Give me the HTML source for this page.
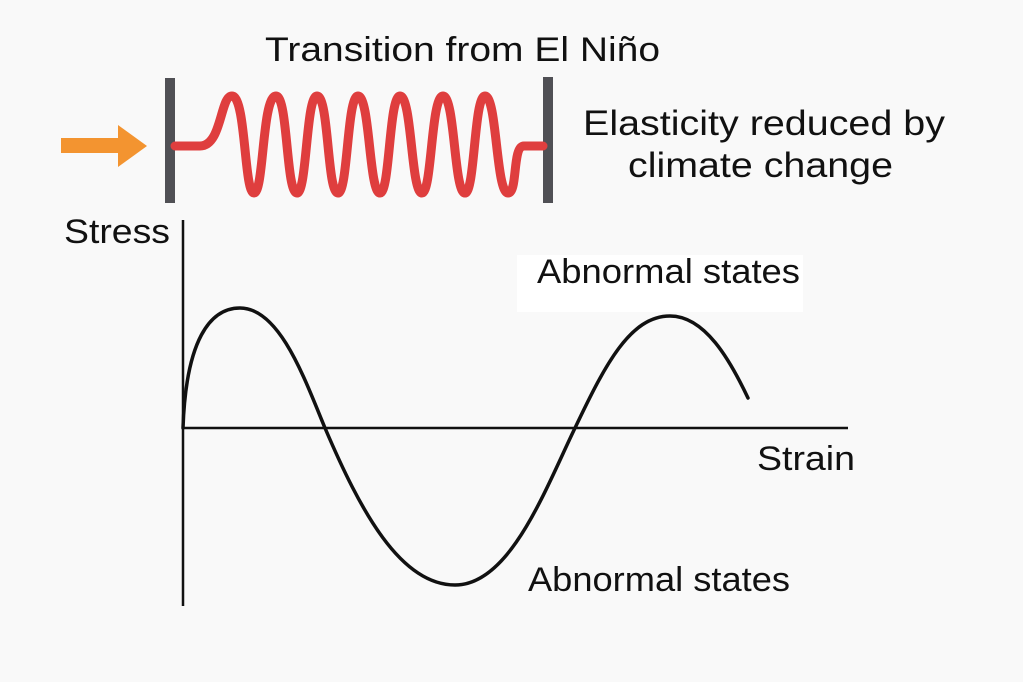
<!DOCTYPE html>
<html><head><meta charset="utf-8"><style>
html,body{margin:0;padding:0;background:#f9f9f9}
svg{display:block}
text{font-family:"Liberation Sans",sans-serif;fill:#111}
</style></head><body>
<svg width="1023" height="682" viewBox="0 0 1023 682">
<rect width="1023" height="682" fill="#f9f9f9"/>
<rect x="517" y="255" width="286" height="57" fill="#ffffff"/>
<text x="265" y="61" font-size="34" textLength="395" lengthAdjust="spacingAndGlyphs">Transition from El Niño</text>
<text x="583" y="135" font-size="35" textLength="362" lengthAdjust="spacingAndGlyphs">Elasticity reduced by</text>
<text x="628" y="177" font-size="35" textLength="265" lengthAdjust="spacingAndGlyphs">climate change</text>
<text x="64" y="243" font-size="34" textLength="106" lengthAdjust="spacingAndGlyphs">Stress</text>
<text x="537" y="283" font-size="34" textLength="263" lengthAdjust="spacingAndGlyphs">Abnormal states</text>
<text x="528" y="591" font-size="34" textLength="262" lengthAdjust="spacingAndGlyphs">Abnormal states</text>
<text x="757" y="470" font-size="34" textLength="98" lengthAdjust="spacingAndGlyphs">Strain</text>
<rect x="61" y="138" width="58" height="15" fill="#f39430"/>
<polygon points="118,125 147,146 118,167" fill="#f39430"/>
<rect x="165" y="78" width="10" height="125" fill="#505055"/>
<rect x="543" y="77" width="10" height="126" fill="#505055"/>
<path d="M175,146 L200,146 C222,146 220,96 232,96 C246,96 244,193 254,193 C264,193 262,96 276,96 C288,96 286,193 297,193 C307,193 306,96 317,96 C329,96 327,193 338,193 C348,193 347,96 358,96 C370,96 369,193 380,193 C390,193 389,96 400,96 C412,96 411,193 422,193 C432,193 431,96 443,96 C455,96 454,193 465,193 C475,193 474,96 485,96 C497,96 496,193 508,193 C518,193 512,146 524,146 L543,146" fill="none" stroke="#df3e3e" stroke-width="9" stroke-linejoin="round" stroke-linecap="round"/>
<line x1="183" y1="220" x2="183" y2="606" stroke="#111" stroke-width="2.5"/>
<line x1="183" y1="428" x2="848" y2="428" stroke="#111" stroke-width="2.5"/>
<path d="M183,428 C186,340 210,308 240,308 C280,308 305,380 325,428 C360,510 400,585 455,585 C510,585 545,490 575,428 C605,365 630,316 670,316 C705,316 730,360 748,398" fill="none" stroke="#111" stroke-width="3.5" stroke-linecap="round"/>
</svg>
</body></html>
